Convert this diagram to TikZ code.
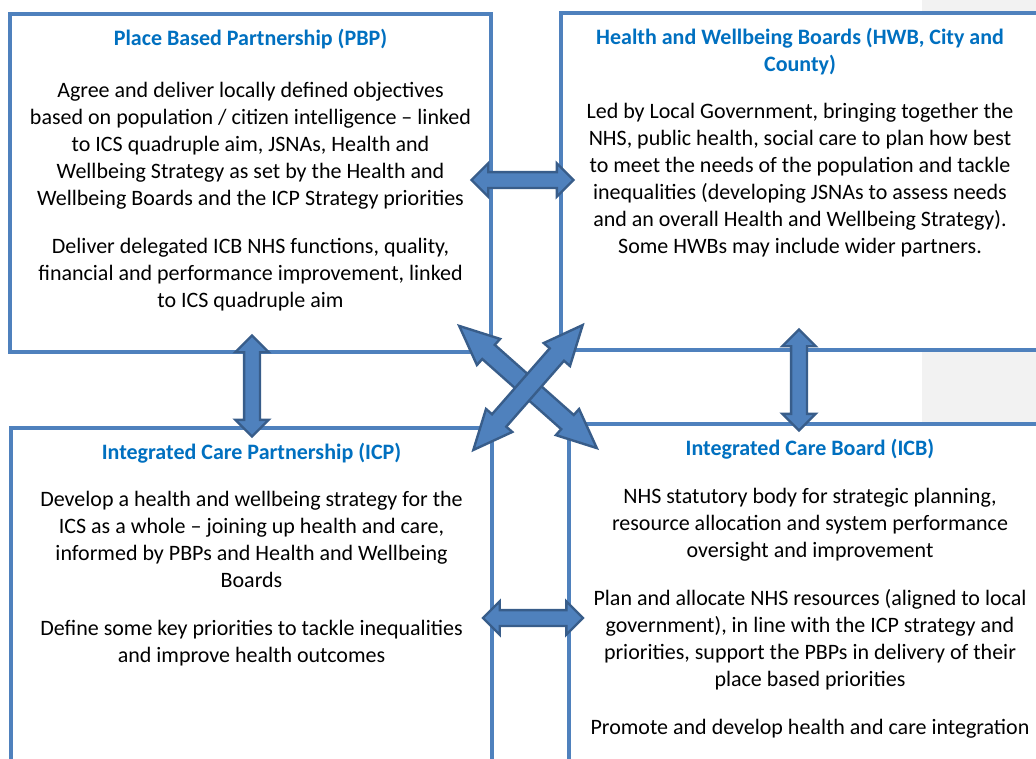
\documentclass[tikz,border=0pt]{standalone}
\usepackage{fontspec}
\setmainfont{Carlito}
\usetikzlibrary{positioning,shapes.arrows}

\definecolor{boxblue}{HTML}{4F81BD}
\definecolor{arrowedge}{HTML}{385D8A}
\definecolor{titleblue}{HTML}{0070C0}
\definecolor{panelgrey}{HTML}{F2F2F2}

\newcommand{\boxtitle}[1]{{\bfseries\color{titleblue}#1}}

\begin{document}
\begin{tikzpicture}[x=1pt,y=-1pt,
    box/.style={rectangle,draw=boxblue,line width=3.2pt,fill=white,inner sep=0pt},
    boxtext/.style={align=center,inner sep=0pt,font=\fontsize{22}{27}\selectfont},
    dblarrow/.style={double arrow,draw=arrowedge,fill=boxblue,line width=2.4pt,
      inner xsep=0pt,inner ysep=6.75pt,minimum width=31pt,
      double arrow head extend=8.75pt,double arrow tip angle=90},
    crossarrow/.style={dblarrow,inner ysep=8.25pt,minimum width=32.5pt,
      double arrow head extend=8pt,double arrow tip angle=48}]

        \useasboundingbox (0,0) rectangle (1036,758);
        \clip (0,0) rectangle (1036,758);
        \fill[panelgrey] (922,0) rectangle (1036,423);

        \begin{scope}[every node/.style={box}]
          \node[minimum width=481pt,minimum height=338pt] (pbp) at (250.5,183)   {};
          \node[minimum width=478pt,minimum height=337pt] (hwb) at (800,181.5)   {};
          \node[minimum width=481pt,minimum height=362pt] (icp) at (251.5,609)   {};
          \node[minimum width=482pt,minimum height=366pt] (icb) at (810,607)     {};
        \end{scope}

        \begin{scope}[every node/.style={boxtext}]
          \node[below=17pt of pbp.north] (pbptext) {\boxtitle{Place Based Partnership (PBP)}\\[25pt]
            Agree and deliver locally defined objectives\\
            based on population / citizen intelligence – linked\\
            to ICS quadruple aim, JSNAs, Health and\\
            Wellbeing Strategy as set by the Health and\\
            Wellbeing Boards and the ICP Strategy priorities\\[21pt]
            Deliver delegated ICB NHS functions, quality,\\
            financial and performance improvement, linked\\
            to ICS quadruple aim};
          \node[below=17pt of hwb.north] (hwbtext) {\boxtitle{Health and Wellbeing Boards (HWB, City and}\\
            \boxtitle{County)}\\[20pt]
            Led by Local Government, bringing together the\\
            NHS, public health, social care to plan how best\\
            to meet the needs of the population and tackle\\
            inequalities (developing JSNAs to assess needs\\
            and an overall Health and Wellbeing Strategy).\\
            Some HWBs may include wider partners.};
          \node[below=17pt of icp.north] (icptext) {\boxtitle{Integrated Care Partnership (ICP)}\\[20pt]
            Develop a health and wellbeing strategy for the\\
            ICS as a whole – joining up health and care,\\
            informed by PBPs and Health and Wellbeing\\
            Boards\\[21pt]
            Define some key priorities to tackle inequalities\\
            and improve health outcomes};
          \node[below=17pt of icb.north] (icbtext) {\boxtitle{Integrated Care Board (ICB)}\\[21pt]
            NHS statutory body for strategic planning,\\
            resource allocation and system performance\\
            oversight and improvement\\[21pt]
            Plan and allocate NHS resources (aligned to local\\
            government), in line with the ICP strategy and\\
            priorities, support the PBPs in delivery of their\\
            place based priorities\\[21pt]
            Promote and develop health and care integration};
        \end{scope}

        \node[dblarrow,minimum height=102pt] (pbphwb) at (522.5,180) {};
        \node[dblarrow,minimum height=101pt,rotate=90] (pbpicp) at (252,386) {};
        \node[dblarrow,minimum height=101pt,rotate=90] (hwbicb) at (799,380) {};
        \node[dblarrow,minimum height=100pt] (icpicb) at (533,618) {};
        \node[crossarrow,minimum height=184pt,rotate=-41.6] (pbpicb) at (528,387) {};
        \node[crossarrow,minimum height=166pt,rotate=48.8] (hwbicp) at (528,387.5) {};

      \end{tikzpicture}
\end{document}
